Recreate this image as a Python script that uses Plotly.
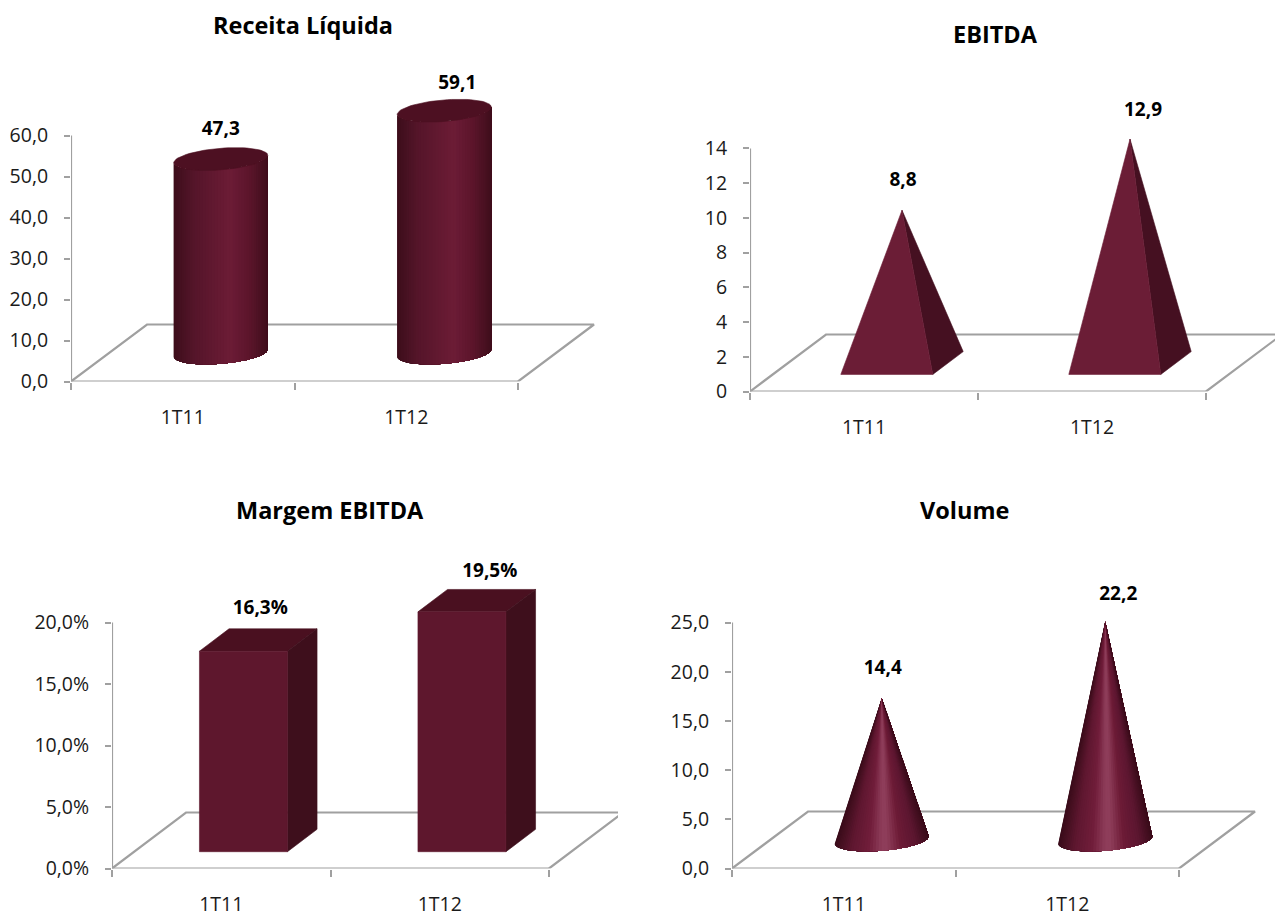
import math
import plotly.graph_objects as go

W, H = 1275, 913
FONT = "Open Sans"

categories = ["1T11", "1T12"]

receita_values = [47.3, 59.1]
ebitda_values = [8.8, 12.9]
margem_values = [16.3, 19.5]
volume_values = [14.4, 22.2]

receita_labels = ["47,3", "59,1"]
ebitda_labels = ["8,8", "12,9"]
margem_labels = ["16,3%", "19,5%"]
volume_labels = ["14,4", "22,2"]

receita_ticks = [0, 10, 20, 30, 40, 50, 60]
receita_ticktext = ["0,0", "10,0", "20,0", "30,0", "40,0", "50,0", "60,0"]
ebitda_ticks = [0, 2, 4, 6, 8, 10, 12, 14]
ebitda_ticktext = ["0", "2", "4", "6", "8", "10", "12", "14"]
margem_ticks = [0, 5, 10, 15, 20]
margem_ticktext = ["0,0%", "5,0%", "10,0%", "15,0%", "20,0%"]
volume_ticks = [0, 5, 10, 15, 20, 25]
volume_ticktext = ["0,0", "5,0", "10,0", "15,0", "20,0", "25,0"]

AXIS = "#a0a0a0"
CYL = [(0, "#3d0e1b"), (.22, "#55152a"), (.6, "#6c1c36"), (.8, "#5c152b"), (1, "#3f0e1c")]
CONE = [(0, "#3a0c1a"), (.18, "#5f1730"), (.36, "#701d3a"), (.5, "#8e3d5a"), (.56, "#8e3d5a"),
        (.7, "#6d1b36"), (.86, "#5c1630"), (1, "#3a0c1a")]


def mix(stops, u):
    for (a, ca), (b, cb) in zip(stops, stops[1:]):
        if u <= b:
            k = (u - a) / (b - a)
            ch = [round(int(ca[i:i + 2], 16) * (1 - k) + int(cb[i:i + 2], 16) * k) for i in (1, 3, 5)]
            return "rgb(%d,%d,%d)" % tuple(ch)
    return stops[-1][1]


panels = [
    dict(kind="cyl", title="Receita Líquida", tx=303, ty=25, vals=receita_values, labs=receita_labels, half=44.5,
         ticks=receita_ticks, tt=receita_ticktext, x0=71, x1=600, cat=223.5, y0=381.5, ytop=60, ppu=4.1, dx=76, dy=57,
         off=[(0, -29), (13, -26)]),
    dict(kind="pyr", title="EBITDA", tx=995, ty=34, vals=ebitda_values, labs=ebitda_labels, half=46,
         ticks=ebitda_ticks, tt=ebitda_ticktext, x0=750, x1=1275, cat=228, y0=391.5, ytop=100, ppu=17.36, dx=76, dy=57,
         off=[(1, -29), (13, -28)]),
    dict(kind="box", title="Margem EBITDA", tx=330, ty=510, vals=margem_values, labs=margem_labels, half=44,
         ticks=margem_ticks, tt=margem_ticktext, x0=112, x1=618, cat=218.5, y0=868.5, ytop=560, ppu=12.3, dx=74, dy=56,
         off=[(2, -31), (13, -28)]),
    dict(kind="cone", title="Volume", tx=964, ty=510, vals=volume_values, labs=volume_labels, half=44.5,
         ticks=volume_ticks, tt=volume_ticktext, x0=732, x1=1270, cat=223.5, y0=868.5, ytop=560, ppu=9.84, dx=76, dy=57,
         off=[(1, -29), (13, -26)]),
]

DEPTH_F = 0.4       # bar depth as a share of floor depth

fig = go.Figure()
layout = dict(width=W, height=H, margin=dict(l=0, r=0, t=0, b=0, autoexpand=False), paper_bgcolor="white",
              plot_bgcolor="rgba(0,0,0,0)", showlegend=False, annotations=[],
              font=dict(family=FONT, color="#1a1a1a"))

for n, p in enumerate(panels, start=1):
    sx, sy = ("x%d" % n, "y%d" % n)
    cat, ppu = p["cat"], p["ppu"]
    ddx, ddy = p["dx"] / cat, p["dy"] / ppu
    half = p["half"] / cat

    def proj(c, d, v):
        return c + d * ddx, v + d * ddy

    def poly(pts, color, clip=True, line=True):
        xs, ys = zip(*pts)
        fig.add_trace(go.Scatter(x=list(xs) + [xs[0]], y=list(ys) + [ys[0]], mode="lines" if line else "none",
                                 fill="toself", fillcolor=color, line=dict(color=color, width=0.6),
                                 hoverinfo="skip", xaxis=sx, yaxis=sy, cliponaxis=clip))

    def path(pts, clip):
        xs, ys = zip(*pts)
        fig.add_trace(go.Scatter(x=list(xs), y=list(ys), mode="lines", line=dict(color=AXIS, width=2.2),
                                 hoverinfo="skip", xaxis=sx, yaxis=sy, cliponaxis=clip))

    # floor back and side edges (clipped by the plot area), then axis lines
    path([proj(0, 0, 0), proj(0, 1, 0), proj(2, 1, 0), proj(2, 0, 0)], True)
    path([(0, p["ticks"][0]), (0, p["ticks"][-1])], False)
    path([(0, 0), (2, 0)], False)

    alpha = math.atan2(DEPTH_F / 2 * p["dx"], p["half"])
    for i, v in enumerate(p["vals"]):
        c = i + 0.5
        d0, d1 = 0.5 - DEPTH_F / 2, 0.5 + DEPTH_F / 2
        if p["kind"] == "box":
            poly([proj(c - half, d0, v), proj(c + half, d0, v), proj(c + half, d1, v), proj(c - half, d1, v)], "#4a1020")
            poly([proj(c + half, d0, 0), proj(c + half, d1, 0), proj(c + half, d1, v), proj(c + half, d0, v)], "#3e0f1c")
            poly([proj(c - half, d0, 0), proj(c + half, d0, 0), proj(c + half, d0, v), proj(c - half, d0, v)], "#5e172d")
            top = proj(c, .5, v)
        elif p["kind"] == "pyr":
            apex = proj(c, .5, v)
            poly([proj(c + half, d0, 0), proj(c + half, d1, 0), apex], "#451021")
            poly([proj(c - half, d0, 0), proj(c + half, d0, 0), apex], "#6b1d36")
            top = apex
        else:
            def ell(t, val):
                return proj(c + half * math.cos(t), .5 + DEPTH_F / 2 * math.sin(t), val)
            N = 48
            ts = [math.pi + alpha + math.pi * k / N for k in range(N + 1)]
            xl, xr = ell(ts[0], 0)[0], ell(ts[-1], 0)[0]
            stops = CYL if p["kind"] == "cyl" else CONE
            # painter's order: each strip reaches to the right edge, so no seams show
            for k in range(N):
                u = (ell((ts[k] + ts[k + 1]) / 2, 0)[0] - xl) / (xr - xl)
                col = mix(stops, min(max(u, 0), 1))
                arc = ts[k:]
                if p["kind"] == "cyl":
                    pts = [ell(t, 0) for t in arc] + [ell(t, v) for t in reversed(arc)]
                else:
                    pts = [ell(t, 0) for t in arc] + [proj(c, .5, v)]
                poly(pts, col, line=False)
            if p["kind"] == "cyl":
                poly([ell(2 * math.pi * k / 72, v) for k in range(72)], "#4d1022")
            top = proj(c, .5, v)
        # value label, offset in pixels from the top of the mark
        ox, oy = p["off"][i]
        lx, ly = top[0] + ox / cat, top[1] - oy / ppu
        fig.add_trace(go.Scatter(x=[lx], y=[ly], mode="text", text=[p["labs"][i]], textposition="middle center",
                                 textfont=dict(family=FONT, size=19, color="#000000", weight="bold"),
                                 hoverinfo="skip", xaxis=sx, yaxis=sy, cliponaxis=False))

    suffix = "" if n == 1 else str(n)
    layout["xaxis" + suffix] = dict(
        domain=[p["x0"] / W, p["x1"] / W], range=[0, (p["x1"] - p["x0"]) / cat], anchor=sy,
        tickmode="array", tickvals=[0.5, 1.5], ticktext=categories, ticks="", ticklen=0,
        ticklabelstandoff=22, tickfont=dict(family=FONT, size=19.5, color="#1a1a1a"),
        showgrid=False, zeroline=False, showline=False, fixedrange=True, automargin=False,
        minor=dict(tickmode="array", tickvals=[0, 1, 2], ticks="outside", ticklen=7, tickwidth=2, tickcolor=AXIS, showgrid=False))
    layout["yaxis" + suffix] = dict(
        domain=[1 - p["y0"] / H, 1 - p["ytop"] / H], range=[0, (p["y0"] - p["ytop"]) / ppu], anchor=sx,
        tickmode="array", tickvals=p["ticks"], ticktext=p["tt"], ticks="outside", ticklen=6, tickwidth=2, tickcolor=AXIS,
        ticklabelstandoff=12, tickfont=dict(family=FONT, size=19.5, color="#1a1a1a"),
        showgrid=False, zeroline=False, showline=False, fixedrange=True, automargin=False)
    layout["annotations"].append(dict(
        text="<b>%s</b>" % p["title"], x=p["tx"] / W, y=1 - p["ty"] / H, xref="paper", yref="paper",
        xanchor="center", yanchor="middle", showarrow=False, font=dict(family=FONT, size=23.5, color="#000000")))

fig.update_layout(**layout)
fig.write_html("out.html", config=dict(displayModeBar=False),
               post_script="document.body.style.margin='0';document.body.style.overflow='hidden';")
